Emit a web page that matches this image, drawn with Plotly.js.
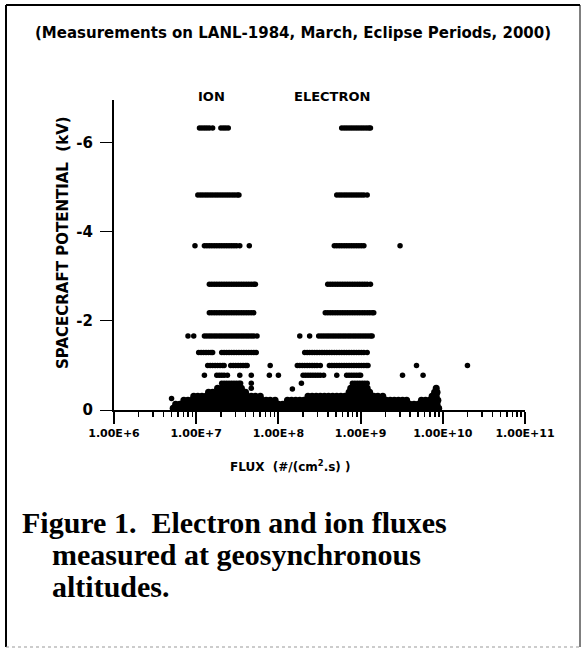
<!DOCTYPE html>
<html>
<head>
<meta charset="utf-8">
<script src="https://cdn.plot.ly/plotly-3.0.1.min.js"></script>
<style>html,body{margin:0;padding:0;background:#fff;}#chart{width:583px;height:656px;}</style>
</head>
<body>
<div id="chart"></div>
<script>
// ---------- DATA (flux given as log10 of #/(cm2.s), potential in kV) ----------
const potentialLevels = [-6.32, -4.82, -3.68, -2.82, -2.18, -1.66, -1.29, -1.0, -0.78, -0.6];

const ionRowLogFlux = [
  [7.04,7.07,7.10,7.13,7.16,7.20,7.30,7.33,7.36,7.39],
  [7.02,7.05,7.08,7.11,7.14,7.17,7.20,7.23,7.26,7.29,7.32,7.35,7.38,7.41,7.44,7.47,7.50,7.52],
  [6.985,7.10,7.13,7.16,7.19,7.22,7.25,7.28,7.31,7.34,7.37,7.40,7.43,7.46,7.49,7.53,7.646],
  [7.16,7.19,7.22,7.25,7.28,7.31,7.34,7.37,7.40,7.43,7.46,7.49,7.52,7.55,7.58,7.61,7.64,7.67,7.70,7.72],
  [7.16,7.19,7.22,7.25,7.28,7.31,7.34,7.37,7.40,7.43,7.46,7.49,7.52,7.55,7.58,7.61,7.64,7.67,7.70],
  [6.90,6.97,7.10,7.13,7.16,7.19,7.22,7.25,7.28,7.31,7.34,7.37,7.40,7.43,7.46,7.49,7.52,7.55,7.58,7.61,7.64,7.67,7.70,7.74],
  [7.03,7.06,7.09,7.12,7.15,7.18,7.20,7.31,7.34,7.37,7.40,7.43,7.46,7.49,7.52,7.55,7.58,7.61,7.64,7.67,7.70,7.73],
  [7.14,7.17,7.20,7.23,7.26,7.29,7.32,7.34,7.42,7.45,7.48,7.51,7.54,7.57,7.60,7.62,7.90],
  [7.10,7.25,7.28,7.31,7.34,7.38,7.53,7.67,7.89,8.00],
  [7.31,7.34,7.37,7.40,7.43,7.46,7.49,7.52,7.54,7.67]
];

const electronRowLogFlux = [
  [8.77,8.80,8.83,8.86,8.89,8.92,8.95,8.98,9.01,9.04,9.07,9.10,9.12],
  [8.71,8.74,8.77,8.80,8.83,8.86,8.89,8.92,8.95,8.98,9.01,9.04,9.08],
  [8.68,8.71,8.74,8.77,8.80,8.83,8.86,8.89,8.92,8.95,8.98,9.01,9.04,9.48],
  [8.60,8.63,8.66,8.69,8.72,8.75,8.78,8.81,8.84,8.87,8.90,8.93,8.96,8.99,9.02,9.05,9.08,9.12],
  [8.57,8.60,8.63,8.66,8.69,8.72,8.75,8.78,8.81,8.84,8.87,8.90,8.93,8.96,8.99,9.02,9.05,9.08,9.11,9.14,9.16],
  [8.26,8.38,8.49,8.52,8.55,8.58,8.61,8.64,8.67,8.70,8.73,8.76,8.79,8.82,8.85,8.88,8.91,8.94,8.97,9.00,9.03,9.06,9.09,9.12,9.14],
  [8.32,8.35,8.38,8.41,8.44,8.47,8.50,8.53,8.56,8.59,8.62,8.65,8.68,8.71,8.74,8.77,8.80,8.83,8.86,8.89,8.92,8.95,8.98,9.01,9.04,9.08],
  [8.23,8.26,8.29,8.32,8.35,8.38,8.41,8.44,8.47,8.51,8.62,8.65,8.68,8.71,8.74,8.77,8.80,8.83,8.86,8.89,8.92,8.95,8.98,9.01,9.04,9.07,9.09,9.68,10.30],
  [8.30,8.33,8.36,8.39,8.42,8.45,8.48,8.51,8.55,8.71,8.83,8.86,8.89,8.92,8.95,8.98,9.00,9.51,9.76],
  [8.28,8.90,8.93,8.96,8.99,9.02,9.05,9.08]
];

// dense low-potential band (both species merged, as in the figure)
const bandLevels = [-0.04, -0.13, -0.22, -0.31, -0.40, -0.49];
const bandLogFlux = [
  [6.72,6.77,6.82,6.87,6.92,6.97,7.02,7.07,7.12,7.17,7.22,7.27,7.32,7.37,7.42,7.47,7.52,7.57,7.62,7.67,7.72,7.77,7.82,7.87,7.92,7.97,8.02,8.07,8.12,8.17,8.22,8.27,8.32,8.37,8.42,8.47,8.52,8.57,8.62,8.67,8.72,8.77,8.82,8.87,8.92,8.97,9.02,9.07,9.12,9.17,9.22,9.27,9.32,9.37,9.42,9.47,9.52,9.57,9.62,9.67,9.72,9.77,9.82,9.87,9.92,9.95],
  [6.75,6.80,6.85,6.90,6.95,7.00,7.05,7.10,7.15,7.20,7.25,7.30,7.35,7.40,7.45,7.50,7.55,7.60,7.65,7.70,7.75,7.80,7.85,7.90,7.95,8.00,8.05,8.10,8.15,8.20,8.25,8.30,8.35,8.40,8.45,8.50,8.55,8.60,8.65,8.70,8.75,8.80,8.85,8.90,8.95,9.00,9.05,9.10,9.15,9.20,9.25,9.30,9.35,9.40,9.45,9.50,9.55,9.60,9.65,9.70,9.75,9.80,9.85,9.90,9.93],
  [6.85,6.90,6.95,7.00,7.05,7.10,7.15,7.20,7.25,7.30,7.35,7.40,7.45,7.50,7.55,7.60,7.65,7.70,7.75,7.80,7.85,7.90,7.96,8.11,8.16,8.21,8.26,8.31,8.36,8.41,8.46,8.51,8.56,8.61,8.66,8.71,8.76,8.81,8.86,8.91,8.96,9.01,9.06,9.11,9.16,9.21,9.26,9.31,9.36,9.41,9.46,9.51,9.56,9.74,9.79,9.84,9.89,9.94],
  [6.97,7.02,7.07,7.12,7.17,7.22,7.27,7.32,7.37,7.42,7.47,7.52,7.57,7.62,7.67,7.72,7.78,8.36,8.41,8.46,8.51,8.56,8.61,8.66,8.71,8.76,8.81,8.86,8.91,8.96,9.01,9.06,9.11,9.16,9.21,9.27,9.87,9.92],
  [7.15,7.20,7.25,7.30,7.35,7.40,7.45,7.50,7.55,7.60,8.86,8.91,8.96,9.01,9.06,9.11,9.90,9.93],
  [7.26,7.31,7.36,7.41,7.46,7.51,7.55,8.88,8.93,8.98,9.03,9.08,9.92]
];

const strayLogFlux = [6.70, 8.17, 7.67];
const strayPotential = [-0.26, -0.47, -0.49];

const xTickVals = [1e6, 1e7, 1e8, 1e9, 1e10, 1e11];
const xTickText = ['1.00E+6', '1.00E+7', '1.00E+8', '1.00E+9', '1.00E+10', '1.00E+11'];
const yTickVals = [0, -2, -4, -6];
const yTickText = ['0', '-2', '-4', '-6'];

// ---------- BUILD TRACES ----------
const toFlux = v => Math.pow(10, v);
const traces = [];
function addRows(levels, rows, size) {
  rows.forEach((row, i) => {
    traces.push({
      type: 'scatter', mode: 'markers',
      x: row.map(toFlux), y: row.map(() => levels[i]),
      marker: {color: '#000', size: size, line: {width: 0}},
      hoverinfo: 'x+y', showlegend: false
    });
  });
}
addRows(bandLevels, bandLogFlux, 7);
addRows(potentialLevels, ionRowLogFlux, 5.5);
addRows(potentialLevels, electronRowLogFlux, 5.5);
traces.push({
  type: 'scatter', mode: 'markers',
  x: strayLogFlux.map(toFlux), y: strayPotential,
  marker: {color: '#000', size: 5.5}, showlegend: false
});

const minorVals = [];
for (let d = 6; d < 11; d++) for (let k = 2; k <= 9; k++) minorVals.push(k * Math.pow(10, d));

// pixel -> paper helpers (plot area: x 114..525, y 100..410)
const PX = v => (v - 114) / 411;
const PY = v => (410 - v) / 310;

const sans = 'DejaVu Sans, Arial, sans-serif';
const serif = 'Liberation Serif, Times New Roman, serif';

const layout = {
  width: 583, height: 656,
  margin: {l: 114, r: 58, t: 100, b: 246, pad: 0},
  paper_bgcolor: '#fff', plot_bgcolor: '#fff',
  showlegend: false,
  xaxis: {
    type: 'log', range: [6, 11], autorange: false,
    showline: true, linecolor: '#000', linewidth: 2,
    showgrid: false, zeroline: false,
    ticks: 'outside', ticklen: 12, tickwidth: 2, tickcolor: '#000',
    tickmode: 'array', tickvals: xTickVals, ticktext: xTickText,
    tickfont: {family: sans, size: 11, color: '#000', weight: 700},
    minor: {tickmode: 'array', tickvals: minorVals, ticks: 'outside', ticklen: 5, tickwidth: 1.5, tickcolor: '#000', showgrid: false}
  },
  yaxis: {
    range: [0, -6.95], autorange: false,
    showline: true, linecolor: '#000', linewidth: 2,
    showgrid: false, zeroline: false,
    ticks: 'outside', ticklen: 12, tickwidth: 1, tickcolor: '#000',
    ticklabelstandoff: 4,
    tickmode: 'array', tickvals: yTickVals, ticktext: yTickText,
    tickfont: {family: sans, size: 15, color: '#000', weight: 700}
  },
  annotations: [
    {text: '(Measurements on LANL-1984, March, Eclipse Periods, 2000)', x: PX(293), y: PY(33),
     font: {family: sans, size: 15, color: '#000', weight: 700}},
    {text: 'ION', x: PX(211), y: PY(97), font: {family: sans, size: 13, color: '#000', weight: 700}},
    {text: 'ELECTRON', x: PX(332), y: PY(97), font: {family: sans, size: 13, color: '#000', weight: 700}},
    {text: 'FLUX  (#/(cm<sup>2</sup>.s) )', x: PX(290), y: PY(466), font: {family: sans, size: 12, color: '#000', weight: 700}},
    {text: 'SPACECRAFT POTENTIAL  (kV)', x: PX(63), y: PY(243), textangle: -90,
     font: {family: sans, size: 15, color: '#000', weight: 700}},
    {text: 'Figure 1.  Electron and ion fluxes', x: PX(20), y: PY(522), xanchor: 'left',
     font: {family: serif, size: 30, color: '#000', weight: 700}},
    {text: 'measured at geosynchronous', x: PX(50), y: PY(554), xanchor: 'left',
     font: {family: serif, size: 30, color: '#000', weight: 700}},
    {text: 'altitudes.', x: PX(50), y: PY(586), xanchor: 'left',
     font: {family: serif, size: 30, color: '#000', weight: 700}}
  ].map(a => Object.assign({xref: 'paper', yref: 'paper', showarrow: false, xanchor: 'center', yanchor: 'middle'}, a)),
  shapes: [
    {type: 'line', xref: 'paper', yref: 'paper', x0: PX(6), x1: PX(6), y0: PY(5), y1: PY(647), line: {color: '#000', width: 2}},
    {type: 'line', xref: 'paper', yref: 'paper', x0: PX(6), x1: PX(580), y0: PY(5), y1: PY(5), line: {color: '#000', width: 2}},
    {type: 'line', xref: 'paper', yref: 'paper', x0: PX(580), x1: PX(580), y0: PY(5), y1: PY(647), line: {color: '#000', width: 1}},
    {type: 'line', xref: 'paper', yref: 'paper', x0: PX(6), x1: PX(580), y0: PY(647), y1: PY(647), line: {color: '#999', width: 1, dash: 'dot'}}
  ]
};

Plotly.newPlot('chart', traces, layout, {staticPlot: true, displayModeBar: false});
</script>
</body>
</html>
